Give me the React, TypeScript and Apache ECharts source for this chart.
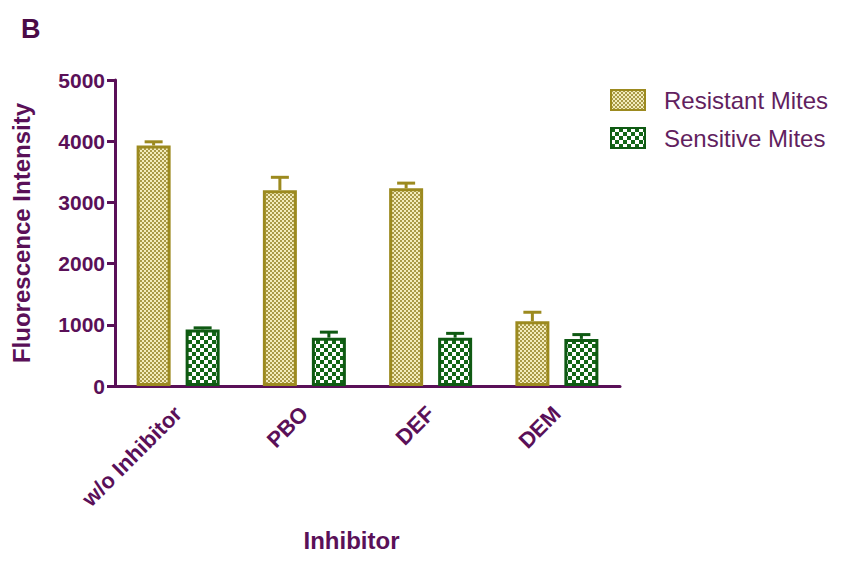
import React, { useEffect, useRef } from "react";
import * as echarts from "echarts";

const categories = ["w/o Inhibitor", "PBO", "DEF", "DEM"];
const resistantValues = [3930, 3200, 3230, 1060];
const resistantErrors = [60, 210, 85, 145];
const sensitiveValues = [925, 790, 790, 770];
const sensitiveErrors = [25, 90, 70, 70];
const yTicks = [0, 1000, 2000, 3000, 4000, 5000];

const PURPLE = "#5a1058";
const OLIVE = "#9c8a1f";
const GREEN = "#0f5a13";
const BAR_W = 34;
const GAP = 15;
const OFFSET = (BAR_W + GAP) / 2;

function makePattern(size: number, cell: number, bg: string, fg: string) {
  const c = document.createElement("canvas");
  c.width = size;
  c.height = size;
  const ctx = c.getContext("2d")!;
  ctx.fillStyle = bg;
  ctx.fillRect(0, 0, size, size);
  ctx.fillStyle = fg;
  for (let y = 0; y < size; y += cell) {
    for (let x = 0; x < size; x += cell) {
      if (((x / cell) + (y / cell)) % 2 === 0) ctx.fillRect(x, y, cell, cell);
    }
  }
  return { image: c, repeat: "repeat", imageWidth: size, imageHeight: size } as any;
}

function errorSeries(name: string, values: number[], errors: number[], offset: number, color: string) {
  return {
    name,
    type: "custom",
    data: values.map((v, i) => [i, v, errors[i]]),
    encode: { x: 0, y: 1 },
    z: 1,
    renderItem: (_p: any, api: any) => {
      const i = api.value(0);
      const v = api.value(1);
      const e = api.value(2);
      const base = api.coord([i, v]);
      const top = api.coord([i, v + e]);
      const x = base[0] + offset;
      return {
        type: "group",
        children: [
          { type: "line", shape: { x1: x, y1: base[1], x2: x, y2: top[1] }, style: { stroke: color, lineWidth: 3 } },
          { type: "line", shape: { x1: x - 9, y1: top[1], x2: x + 9, y2: top[1] }, style: { stroke: color, lineWidth: 3 } },
        ],
      };
    },
  };
}

export default function App() {
  const ref = useRef<HTMLDivElement>(null);
  useEffect(() => {
    if (!ref.current) return;
    const chart = echarts.init(ref.current, null, { renderer: "svg" });
    const resistantFill = makePattern(4, 2, "#f3ecbc", "#a99a48");
    const sensitiveFill = makePattern(8, 4, "#ffffff", "#136617");
    const font = "Arial, 'Liberation Sans', sans-serif";
    chart.setOption({
      animation: false,
      backgroundColor: "#ffffff",
      textStyle: { fontFamily: font },
      title: {
        text: "B",
        left: 16,
        top: 10,
        textStyle: { fontSize: 27, fontWeight: "bold", color: "#4b0b47", fontFamily: font },
      },
      legend: {
        orient: "vertical",
        left: 610,
        top: 88,
        itemWidth: 34,
        itemHeight: 20,
        itemGap: 14,
        padding: 0,
        icon: "rect",
        data: ["Resistant Mites", "Sensitive Mites"],
        textStyle: { fontSize: 24, color: "#621f60", fontFamily: font, padding: [0, 0, 0, 14] },
      },
      grid: { left: 115, top: 80, width: 505, height: 306 },
      xAxis: {
        type: "category",
        data: categories,
        name: "Inhibitor",
        nameLocation: "middle",
        nameGap: 142,
        nameTextStyle: { fontSize: 24, fontWeight: "bold", color: PURPLE, padding: [0, 32, 0, 0] },
        axisLine: { lineStyle: { color: PURPLE, width: 3 } },
        axisTick: { alignWithLabel: true, length: 8, lineStyle: { color: PURPLE, width: 3 } },
        axisLabel: { rotate: 45, fontSize: 22, fontWeight: "bold", color: PURPLE, margin: 24, interval: 0 },
      },
      yAxis: {
        type: "value",
        min: yTicks[0],
        max: yTicks[yTicks.length - 1],
        interval: 1000,
        name: "Fluorescence Intensity",
        nameLocation: "middle",
        nameGap: 82,
        nameTextStyle: { fontSize: 24, fontWeight: "bold", color: PURPLE },
        splitLine: { show: false },
        axisLine: { show: true, lineStyle: { color: PURPLE, width: 3 } },
        axisTick: { show: true, length: 8, lineStyle: { color: PURPLE, width: 3 } },
        axisLabel: {
          fontSize: 21,
          fontWeight: "bold",
          color: PURPLE,
          margin: 10,
          formatter: (v: number) => String(v),
        },
      },
      series: [
        {
          name: "Resistant Mites",
          type: "bar",
          data: resistantValues,
          barWidth: BAR_W,
          barGap: (GAP / BAR_W) * 100 + "%",
          z: 2,
          itemStyle: { color: resistantFill, borderColor: OLIVE, borderWidth: 3 },
        },
        {
          name: "Sensitive Mites",
          type: "bar",
          data: sensitiveValues,
          barWidth: BAR_W,
          z: 2,
          itemStyle: { color: sensitiveFill, borderColor: GREEN, borderWidth: 3 },
        },
        errorSeries("Resistant err", resistantValues, resistantErrors, -OFFSET, OLIVE),
        errorSeries("Sensitive err", sensitiveValues, sensitiveErrors, OFFSET, GREEN),
      ],
    } as any);
    return () => chart.dispose();
  }, []);
  return (
    <div
      ref={ref}
      style={{ position: "fixed", left: 0, top: 0, width: 842, height: 570, background: "#fff" }}
    />
  );
}
